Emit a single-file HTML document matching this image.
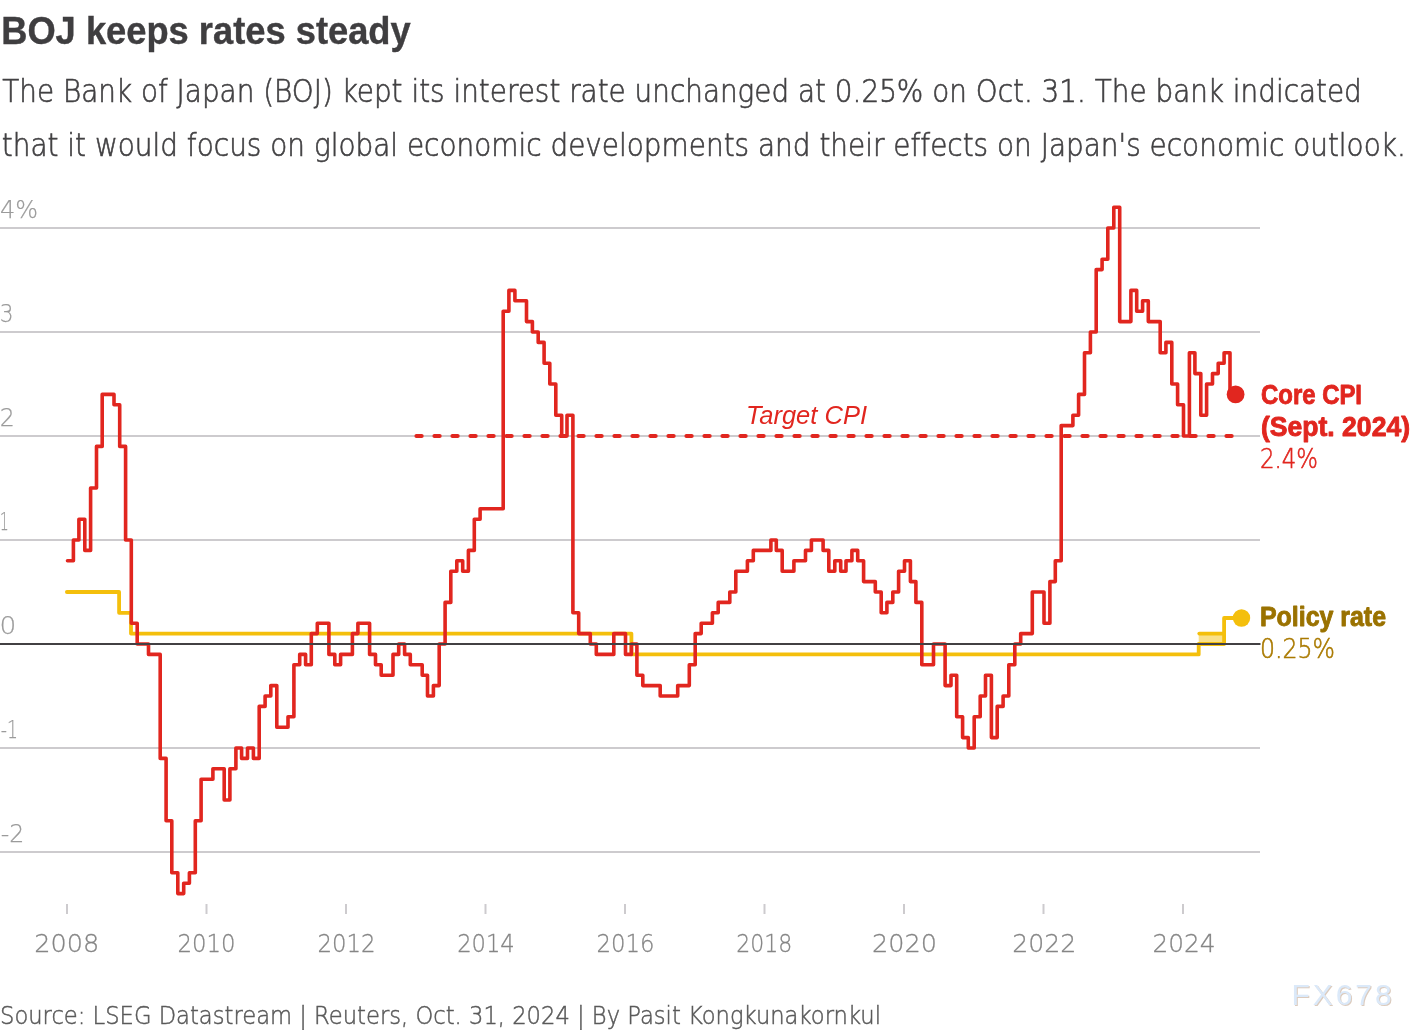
<!DOCTYPE html>
<html lang="en"><head><meta charset="utf-8"><title>BOJ keeps rates steady</title>
<style>
html,body{margin:0;padding:0;background:#fff;}
body{width:1420px;height:1030px;overflow:hidden;font-family:"Liberation Sans",sans-serif;}
svg{display:block;position:absolute;left:0;top:0;}
text{font-family:"Liberation Sans",sans-serif;font-variant-ligatures:none;font-kerning:normal;}
.lt{font-family:"DejaVu Sans Light","DejaVu Sans","Liberation Sans",sans-serif;font-weight:200;stroke-width:0.6px;}
.title{font-size:38.6px;font-weight:bold;fill:#3f3e40;stroke:#3f3e40;stroke-width:0.4px;}
.sub{font-size:32.2px;fill:#424143;stroke:#424143;stroke-width:0.65px;}
.ax{font-size:25.5px;fill:#9b9b9b;stroke:#9b9b9b;stroke-width:0.25px;}
.xl{font-size:25.5px;fill:#858585;stroke:#858585;stroke-width:0.3px;}
.src{font-size:25.4px;fill:#5a5a5a;stroke:#5a5a5a;stroke-width:0.5px;}
.red{fill:#e1261f;stroke:#e1261f;}
.gold{fill:#9a7200;stroke:#9a7200;}
.gold2{fill:#aa7a00;stroke:#aa7a00;}
.lab{font-size:27px;font-weight:bold;stroke-width:0.9px;stroke-linejoin:round;}
.val{font-size:25.8px;stroke-width:0.55px;}
.tgt{font-size:26px;font-style:italic;fill:#e1261f;}
.wm{font-size:30px;}
</style></head>
<body>
<svg width="1420" height="1030" viewBox="0 0 1420 1030">
<rect width="1420" height="1030" fill="#ffffff"/>
<text x="1.2" y="43.8" class="title" textLength="409.5" lengthAdjust="spacingAndGlyphs">BOJ keeps rates steady</text>
<text x="2.3" y="101.8" class="sub lt" textLength="1359.5" lengthAdjust="spacingAndGlyphs">The Bank of Japan (BOJ) kept its interest rate unchanged at 0.25% on Oct. 31. The bank indicated</text>
<text x="1.8" y="155.7" class="sub lt" textLength="1404" lengthAdjust="spacingAndGlyphs">that it would focus on global economic developments and their effects on Japan's economic outlook.</text>
<line x1="0" x2="1260" y1="228.0" y2="228.0" stroke="#cdcbce" stroke-width="2"/>
<line x1="0" x2="1260" y1="332.0" y2="332.0" stroke="#cdcbce" stroke-width="2"/>
<line x1="0" x2="1260" y1="436.0" y2="436.0" stroke="#cdcbce" stroke-width="2"/>
<line x1="0" x2="1260" y1="540.0" y2="540.0" stroke="#cdcbce" stroke-width="2"/>
<line x1="0" x2="1260" y1="748.0" y2="748.0" stroke="#cdcbce" stroke-width="2"/>
<line x1="0" x2="1260" y1="852.0" y2="852.0" stroke="#cdcbce" stroke-width="2"/>
<text x="0.0" y="218.0" class="ax lt" textLength="38" lengthAdjust="spacingAndGlyphs">4%</text>
<text x="-0.2" y="322.0" class="ax lt" textLength="13.8" lengthAdjust="spacingAndGlyphs">3</text>
<text x="-0.2" y="426.0" class="ax lt" textLength="15" lengthAdjust="spacingAndGlyphs">2</text>
<text x="-0.2" y="530.0" class="ax lt" textLength="9" lengthAdjust="spacingAndGlyphs">1</text>
<text x="-0.6" y="634.0" class="ax lt" textLength="16.8" lengthAdjust="spacingAndGlyphs">0</text>
<text x="0.8" y="738.0" class="ax lt" textLength="17.2" lengthAdjust="spacingAndGlyphs">-1</text>
<text x="0.8" y="842.0" class="ax lt" textLength="23.6" lengthAdjust="spacingAndGlyphs">-2</text>
<line x1="67.0" x2="67.0" y1="904" y2="914" stroke="#cdcbce" stroke-width="2"/><text x="34.3" y="952.3" class="xl lt" textLength="65" lengthAdjust="spacingAndGlyphs">2008</text>
<line x1="206.5" x2="206.5" y1="904" y2="914" stroke="#cdcbce" stroke-width="2"/><text x="177.5" y="952.3" class="xl lt" textLength="58" lengthAdjust="spacingAndGlyphs">2010</text>
<line x1="346.0" x2="346.0" y1="904" y2="914" stroke="#cdcbce" stroke-width="2"/><text x="317.5" y="952.3" class="xl lt" textLength="58" lengthAdjust="spacingAndGlyphs">2012</text>
<line x1="485.5" x2="485.5" y1="904" y2="914" stroke="#cdcbce" stroke-width="2"/><text x="457.2" y="952.3" class="xl lt" textLength="57.5" lengthAdjust="spacingAndGlyphs">2014</text>
<line x1="625.0" x2="625.0" y1="904" y2="914" stroke="#cdcbce" stroke-width="2"/><text x="596.5" y="952.3" class="xl lt" textLength="58" lengthAdjust="spacingAndGlyphs">2016</text>
<line x1="764.5" x2="764.5" y1="904" y2="914" stroke="#cdcbce" stroke-width="2"/><text x="736.2" y="952.3" class="xl lt" textLength="56" lengthAdjust="spacingAndGlyphs">2018</text>
<line x1="904.0" x2="904.0" y1="904" y2="914" stroke="#cdcbce" stroke-width="2"/><text x="872.0" y="952.3" class="xl lt" textLength="65" lengthAdjust="spacingAndGlyphs">2020</text>
<line x1="1043.5" x2="1043.5" y1="904" y2="914" stroke="#cdcbce" stroke-width="2"/><text x="1012.3" y="952.3" class="xl lt" textLength="64" lengthAdjust="spacingAndGlyphs">2022</text>
<line x1="1183.0" x2="1183.0" y1="904" y2="914" stroke="#cdcbce" stroke-width="2"/><text x="1152.4" y="952.3" class="xl lt" textLength="63" lengthAdjust="spacingAndGlyphs">2024</text>
<rect x="1198.7" y="633.6" width="25.4" height="10.4" fill="#f9e08a"/>
<path d="M1199.3,633.6H1224.1" fill="none" stroke="#f4bf0c" stroke-width="3.8" stroke-linecap="round"/>
<path d="M66.9,592.0H119.1V612.8H131.0V633.6H631.4V654.4H1198.7V644.0H1224.1V618.0H1241.5" fill="none" stroke="#f4bf0c" stroke-width="3.8" stroke-linejoin="round" stroke-linecap="round"/>
<circle cx="1241.5" cy="618.0" r="8.7" fill="#f4bf0c"/>
<line x1="416.4" x2="1232" y1="436.0" y2="436.0" stroke="#e1261f" stroke-width="4" stroke-dasharray="5.3 12.7" stroke-linecap="round"/>
<path d="M67.5,560.8H73.4V540.0H78.9V519.2H84.8V550.4H90.6V488.0H96.5V446.4H102.2V394.4H114.0V404.8H119.7V446.4H125.6V540.0H131.3V623.2H137.2V644.0H148.5V654.4H160.2V758.4H166.1V820.8H171.8V872.8H177.8V893.6H183.7V883.2H189.4V872.8H195.3V820.8H201.1V779.2H212.9V768.8H224.2V800.0H229.9V768.8H235.9V748.0H241.6V758.4H247.5V748.0H253.4V758.4H259.2V706.4H265.1V696.0H270.8V685.6H276.8V727.2H288.0V716.8H293.9V664.8H299.7V654.4H305.6V664.8H311.3V633.6H317.3V623.2H328.9V654.4H334.8V664.8H340.6V654.4H352.4V633.6H357.9V623.2H369.6V654.4H375.5V664.8H381.2V675.2H393.0V654.4H398.7V644.0H404.6V654.4H410.3V664.8H422.2V675.2H427.5V696.0H433.4V685.6H439.2V644.0H445.1V602.4H450.8V571.2H456.8V560.8H462.7V571.2H468.4V550.4H474.3V519.2H480.1V508.8H503.2V311.2H508.9V290.4H514.9V300.8H526.5V321.6H532.4V332.0H538.2V342.4H544.1V363.2H549.8V384.0H555.8V415.2H561.7V436.0H567.0V415.2H572.9V612.8H578.7V633.6H590.3V644.0H596.3V654.4H613.8V633.6H625.5V654.4H631.4V644.0H636.9V675.2H642.8V685.6H660.2V696.0H677.7V685.6H689.3V664.8H695.2V633.6H701.2V623.2H712.4V612.8H718.2V602.4H729.8V592.0H735.8V571.2H747.4V560.8H753.3V550.4H770.9V540.0H776.3V550.4H782.2V571.2H793.9V560.8H805.5V550.4H811.4V540.0H823.1V550.4H828.8V571.2H834.8V560.8H840.7V571.2H846.0V560.8H851.9V550.4H857.7V560.8H863.6V581.6H875.3V592.0H881.2V612.8H886.9V602.4H892.8V592.0H898.6V571.2H904.5V560.8H910.4V581.6H915.9V602.4H921.8V664.8H933.5V644.0H945.1V685.6H951.0V675.2H956.7V716.8H962.6V737.6H968.3V748.0H974.2V716.8H980.2V696.0H985.5V675.2H991.4V737.6H997.2V706.4H1003.1V696.0H1008.8V664.8H1014.8V644.0H1020.7V633.6H1032.3V592.0H1044.0V623.2H1049.9V581.6H1055.3V560.8H1061.2V425.6H1072.9V415.2H1078.6V394.4H1084.5V352.8H1090.4V332.0H1096.2V269.6H1102.1V259.2H1107.8V228.0H1113.8V207.2H1119.7V321.6H1130.9V290.4H1136.7V311.2H1142.6V300.8H1148.3V321.6H1160.2V352.8H1165.9V342.4H1171.8V384.0H1177.6V404.8H1183.5V436.0H1189.4V352.8H1194.9V373.6H1200.8V415.2H1206.6V384.0H1212.5V373.6H1218.2V363.2H1224.1V352.8H1230.0V394.4H1235.6" fill="none" stroke="#e1261f" stroke-width="3.6" stroke-linejoin="round" stroke-linecap="round"/>
<line x1="0" x2="1260.5" y1="644.0" y2="644.0" stroke="#424043" stroke-width="2"/>
<circle cx="1235.6" cy="394.4" r="8.9" fill="#e1261f"/>
<text x="746" y="423.6" class="tgt" textLength="121" lengthAdjust="spacingAndGlyphs">Target CPI</text>
<text x="1261" y="404" class="lab red" textLength="101" lengthAdjust="spacingAndGlyphs">Core CPI</text>
<text x="1261" y="435.6" class="lab red" textLength="149" lengthAdjust="spacingAndGlyphs">(Sept. 2024)</text>
<text x="1260" y="468.2" class="val red lt" textLength="58" lengthAdjust="spacingAndGlyphs">2.4%</text>
<text x="1260" y="625.6" class="lab gold" textLength="126" lengthAdjust="spacingAndGlyphs">Policy rate</text>
<text x="1260" y="658.1" class="val gold2 lt" textLength="75" lengthAdjust="spacingAndGlyphs">0.25%</text>
<text x="0" y="1024.2" class="src lt" textLength="881" lengthAdjust="spacingAndGlyphs">Source: LSEG Datastream | Reuters, Oct. 31, 2024 | By Pasit Kongkunakornkul</text>
<text x="1292.6" y="1006.2" class="wm" fill="#dccbbd" textLength="100" lengthAdjust="spacing">FX678</text>
<text x="1291.6" y="1005.2" class="wm" fill="#dbe9f9" textLength="100" lengthAdjust="spacing">FX678</text>
</svg>
</body></html>
